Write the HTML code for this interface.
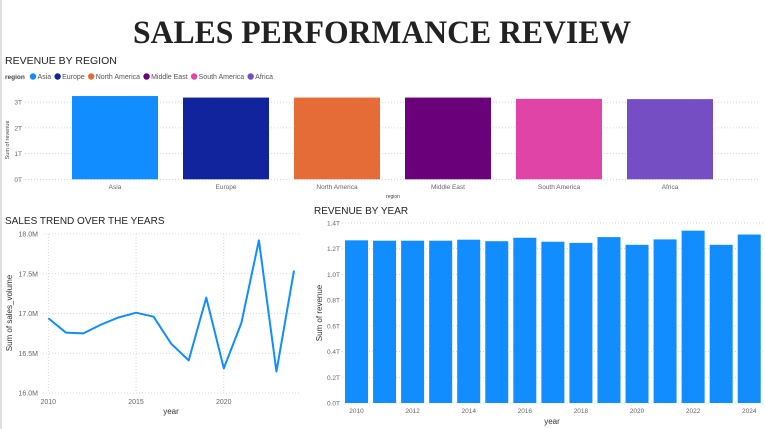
<!DOCTYPE html>
<html><head><meta charset="utf-8"><style>
body{margin:0;background:#fff;}
svg{display:block;font-family:"Liberation Sans",sans-serif;}
</style></head><body>
<svg id="s" width="765" height="429" viewBox="0 0 765 429">
<rect x="0" y="0" width="765" height="429" fill="#fff"/>
<rect x="0" y="0" width="2" height="429" fill="#e0e0e0"/>
<text x="382" y="43" text-anchor="middle" font-family="Liberation Serif,serif" font-weight="bold" font-size="33" textLength="498" lengthAdjust="spacingAndGlyphs" fill="#222">SALES PERFORMANCE REVIEW</text>
<g id="c1">
<text x="5" y="64" font-size="10.5" fill="#252423">REVENUE BY REGION</text>
<text x="5" y="79" font-size="6.5" font-weight="bold" fill="#444">region</text>
</g>
<g id="c2">
<text x="5" y="224" font-size="10" fill="#252423">SALES TREND OVER THE YEARS</text>
</g>
<g id="c3">
<text x="314" y="214" font-size="10" fill="#252423">REVENUE BY YEAR</text>
</g>
</svg>
<script>
const NS='http://www.w3.org/2000/svg';
function mk(p,t,a,txt){const e=document.createElementNS(NS,t);for(const k in a)e.setAttribute(k,a[k]);if(txt!==undefined)e.textContent=txt;p.appendChild(e);return e;}

// Chart 1 data
const regions=['Asia','Europe','North America','Middle East','South America','Africa'];
const regionColors=['#118DFF','#12239E','#E66C37','#6B007B','#E044A7','#744EC2'];
const regionRevenue=[3.24,3.18,3.18,3.18,3.13,3.12];
const regionTicks=[0,1,2,3];

// Chart 2 data
const trendYears=[2010,2011,2012,2013,2014,2015,2016,2017,2018,2019,2020,2021,2022,2023,2024];
const salesVolume=[16.94,16.76,16.75,16.86,16.95,17.01,16.96,16.62,16.41,17.20,16.31,16.88,17.92,16.27,17.54];
const volumeTicks=[16.0,16.5,17.0,17.5,18.0];
const trendXTicks=[2010,2015,2020];

// Chart 3 data
const revYears=[2010,2011,2012,2013,2014,2015,2016,2017,2018,2019,2020,2021,2022,2023,2024];
const yearRevenue=[1.265,1.262,1.262,1.262,1.27,1.258,1.285,1.254,1.245,1.29,1.23,1.272,1.34,1.23,1.31];
const revTicks=[0,0.2,0.4,0.6,0.8,1.0,1.2,1.4];
const revXTicks=[2010,2012,2014,2016,2018,2020,2022,2024];

// ---- Chart 1
(function(){
const g=document.getElementById('c1');
const y0=179.3,pxPer=25.7,x0=59.5,band=111,bw=86;
const Y=v=>y0-v*pxPer, X=i=>x0+i*band+(band-bw)/2;
let lx=33;
regions.forEach((r,i)=>{
 const c=mk(g,'circle',{cx:lx,cy:76.5,r:3.2,fill:regionColors[i]});
 
 
 const t=mk(g,'text',{x:lx+4.5,y:79,'font-size':7,fill:'#555'},r);
 
 
 lx+=t.getComputedTextLength()+11;
});
regionTicks.forEach(v=>{
 const l=mk(g,'line',{x1:25,x2:758,y1:Y(v),y2:Y(v),stroke:'#ccc','stroke-dasharray':'1,2','stroke-width':0.8});
 
 
 const t=mk(g,'text',{x:22,y:Y(v)+2.5,'font-size':6.5,fill:'#666','text-anchor':'end'},v+'T');
 
 
});
regions.forEach((r,i)=>{
 const b=mk(g,'rect',{x:X(i),y:Y(regionRevenue[i]),width:bw,height:regionRevenue[i]*pxPer,fill:regionColors[i]});
 
 
 const t=mk(g,'text',{x:X(i)+bw/2,y:189,'font-size':6.5,fill:'#666','text-anchor':'middle'},r);
 
 
});
const yt=mk(g,'text',{transform:'translate(9,140) rotate(-90)','font-size':5.5,fill:'#444','text-anchor':'middle'},'Sum of revenue');


const xt=mk(g,'text',{x:393,y:198,'font-size':5,fill:'#444','text-anchor':'middle'},'region');


})();

// ---- Chart 2
(function(){
const g=document.getElementById('c2');
const Y=v=>393-(v-16)*79.5, X=y=>48.3+(y-2010)*17.55;
volumeTicks.forEach(v=>{
 const l=mk(g,'line',{x1:43,x2:300,y1:Y(v),y2:Y(v),stroke:'#ccc','stroke-dasharray':'1,2','stroke-width':0.8});
 
 
 const t=mk(g,'text',{x:38,y:Y(v)+2.5,'font-size':7,fill:'#666','text-anchor':'end'},v.toFixed(1)+'M');
 
 
});
trendXTicks.forEach(v=>{
 const l=mk(g,'line',{x1:X(v),x2:X(v),y1:234,y2:393,stroke:'#ccc','stroke-dasharray':'1,2','stroke-width':0.8});
 
 
 const t=mk(g,'text',{x:X(v),y:404,'font-size':7,fill:'#666','text-anchor':'middle'},v);
 
 
});
const pts=trendYears.map((y,i)=>X(y)+','+Y(salesVolume[i])).join(' ');
const pl=mk(g,'polyline',{points:pts,fill:'none',stroke:'#118DFF','stroke-width':2,'stroke-linejoin':'round'});


const yt=mk(g,'text',{transform:'translate(12,313) rotate(-90)','font-size':8,fill:'#333','text-anchor':'middle'},'Sum of sales_volume');


const xt=mk(g,'text',{x:171,y:414,'font-size':8,fill:'#333','text-anchor':'middle'},'year');


})();

// ---- Chart 3
(function(){
const g=document.getElementById('c3');
const y0=403,pxPer=128.6,x0=342.5,band=28.05,bw=23;
const Y=v=>y0-v*pxPer, X=i=>x0+i*band+(band-bw)/2;
revTicks.forEach(v=>{
 const l=mk(g,'line',{x1:342,x2:763,y1:Y(v),y2:Y(v),stroke:'#ccc','stroke-dasharray':'1,2','stroke-width':0.8});
 
 
 const t=mk(g,'text',{x:340,y:Y(v)+2.5,'font-size':6.5,fill:'#666','text-anchor':'end'},v.toFixed(1)+'T');
 
 
});
revYears.forEach((y,i)=>{
 const b=mk(g,'rect',{x:X(i),y:Y(yearRevenue[i]),width:bw,height:yearRevenue[i]*pxPer,fill:'#118DFF'});
 
 
});
revXTicks.forEach(v=>{
 const i=revYears.indexOf(v);
 const t=mk(g,'text',{x:X(i)+bw/2,y:413,'font-size':6.5,fill:'#666','text-anchor':'middle'},v);
 
 
});
const yt=mk(g,'text',{transform:'translate(322,313) rotate(-90)','font-size':8,fill:'#333','text-anchor':'middle'},'Sum of revenue');


const xt=mk(g,'text',{x:552,y:424,'font-size':8,fill:'#333','text-anchor':'middle'},'year');


})();
</script>
</body></html>
